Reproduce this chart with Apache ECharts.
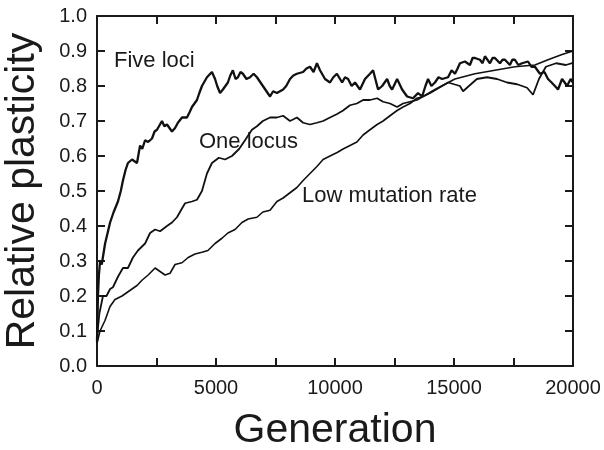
<!DOCTYPE html>
<html><head><meta charset="utf-8">
<script src="https://cdn.jsdelivr.net/npm/echarts@6/dist/echarts.min.js"></script>
<style>html,body{margin:0;padding:0;background:#fff}#c{width:604px;height:450px}</style>
</head><body><div id="c"></div>
<script>
const fiveGen = [0,40,80,130,200,340,550,700,880,1000,1090,1200,1300,1470,1680,1810,1900,2020,2150,2310,2420,2520,2730,2830,2940,3150,3280,3400,3570,3780,3890,3990,4200,4300,4410,4620,4830,4960,5050,5170,5290,5500,5600,5710,5820,5920,6030,6130,6280,6430,6580,6720,6970,7270,7400,7560,7820,7950,8110,8250,8400,8660,8800,8950,9100,9240,9370,9580,9790,9930,10080,10300,10420,10550,10700,10840,11050,11260,11470,11600,11680,11810,11980,12190,12300,12400,12610,12820,13030,13280,13490,13660,13800,13910,14050,14200,14350,14500,14750,14900,15040,15150,15250,15460,15670,15780,15880,16090,16200,16300,16510,16620,16720,16930,17040,17140,17350,17450,17560,17700,17860,18110,18250,18400,18610,18800,18950,19100,19240,19370,19540,19650,19750,19900,20000];
const fiveVal = [0.07,0.20,0.26,0.30,0.29,0.35,0.41,0.44,0.47,0.50,0.53,0.56,0.58,0.59,0.58,0.63,0.62,0.645,0.64,0.65,0.67,0.675,0.70,0.685,0.69,0.67,0.68,0.695,0.71,0.71,0.725,0.74,0.76,0.78,0.80,0.825,0.84,0.82,0.80,0.78,0.79,0.81,0.83,0.845,0.82,0.825,0.84,0.835,0.82,0.825,0.835,0.825,0.80,0.77,0.785,0.78,0.79,0.80,0.82,0.83,0.835,0.84,0.85,0.855,0.84,0.865,0.845,0.82,0.81,0.825,0.835,0.81,0.825,0.82,0.80,0.81,0.79,0.82,0.835,0.845,0.85,0.79,0.80,0.82,0.80,0.79,0.82,0.79,0.77,0.765,0.78,0.77,0.80,0.82,0.80,0.81,0.825,0.82,0.825,0.845,0.835,0.85,0.865,0.87,0.86,0.88,0.88,0.875,0.865,0.885,0.865,0.88,0.88,0.865,0.875,0.875,0.86,0.875,0.875,0.86,0.865,0.87,0.855,0.855,0.835,0.84,0.82,0.81,0.80,0.79,0.82,0.81,0.80,0.82,0.81];

const oneGen = [0,100,250,400,550,670,880,1090,1300,1510,1720,2020,2230,2440,2650,2940,3150,3360,3570,3700,3990,4200,4410,4620,4830,5120,5380,5670,5970,6220,6510,6720,6970,7270,7560,7820,8110,8400,8660,8950,9240,9500,9790,10090,10340,10630,10920,11180,11470,11770,12020,12310,12610,12860,13150,13440,13700,14000,14500,14750,15250,15380,15960,16390,16810,17230,17650,18070,18320,18570,18860,19290,19700,20000];
const oneVal = [0.08,0.15,0.20,0.20,0.22,0.225,0.255,0.28,0.28,0.31,0.33,0.35,0.38,0.39,0.385,0.40,0.41,0.425,0.45,0.465,0.47,0.475,0.50,0.55,0.58,0.595,0.59,0.60,0.62,0.645,0.675,0.685,0.70,0.71,0.71,0.715,0.70,0.71,0.695,0.69,0.695,0.70,0.71,0.72,0.73,0.745,0.75,0.76,0.76,0.765,0.755,0.75,0.74,0.75,0.755,0.76,0.77,0.78,0.80,0.81,0.80,0.785,0.82,0.825,0.82,0.81,0.805,0.795,0.775,0.82,0.855,0.865,0.86,0.866];

const lowGen = [0,126,336,546,756,1050,1260,1470,1680,1890,2150,2440,2650,2860,3070,3280,3570,3830,4120,4410,4660,4960,5250,5500,5800,6090,6350,6720,6970,7270,7560,7820,8110,8400,8660,8950,9240,9500,9790,10090,10340,10630,10920,11180,11470,11770,12020,12310,12610,12860,13150,13440,13700,14200,15040,15880,16720,17560,18400,18950,19540,20000];
const lowVal = [0.065,0.10,0.13,0.17,0.19,0.20,0.21,0.22,0.23,0.245,0.26,0.28,0.27,0.26,0.265,0.29,0.295,0.31,0.32,0.325,0.33,0.35,0.365,0.38,0.39,0.41,0.42,0.425,0.44,0.445,0.47,0.48,0.495,0.51,0.53,0.55,0.57,0.59,0.60,0.61,0.62,0.63,0.64,0.66,0.675,0.69,0.70,0.715,0.73,0.74,0.75,0.765,0.77,0.79,0.82,0.835,0.845,0.855,0.86,0.875,0.89,0.90];

const seriesNames = ['Five loci','One locus','Low mutation rate'];
const xTicksLabeled = [0,5000,10000,15000,20000];

const pairs = (g,v) => g.map((x,i)=>[x,v[i]]);
const chart = echarts.init(document.getElementById('c'));
const font = 'Liberation Sans, Arial, sans-serif';
const axCol = '#1a1a1a';
const baseX = {type:'value',min:0,max:20000,interval:2500,
  axisLine:{onZero:false,lineStyle:{color:axCol,width:2}},
  axisTick:{inside:true,length:8,lineStyle:{color:axCol,width:2}},
  splitLine:{show:false}};
const baseY = {type:'value',min:0,max:1,interval:0.1,
  axisLine:{onZero:false,lineStyle:{color:axCol,width:2}},
  axisTick:{inside:true,length:8,lineStyle:{color:axCol,width:2}},
  splitLine:{show:false}};
chart.setOption({
  animation:false,
  backgroundColor:'#fff',
  grid:{left:97,right:31,top:16,bottom:84,containLabel:false,outerBoundsMode:'none'},
  xAxis:[Object.assign({},baseX,{position:'bottom',
    name:'Generation',nameLocation:'middle',nameGap:44,
    nameTextStyle:{fontFamily:font,fontSize:41,color:'#1a1a1a'},
    axisLabel:{fontFamily:font,fontSize:20,color:'#1a1a1a',margin:12,
      formatter:v=>xTicksLabeled.indexOf(v)>=0?String(v):''}}),
    Object.assign({},baseX,{position:'top',axisLabel:{show:false}})],
  yAxis:[Object.assign({},baseY,{position:'left',
    name:'Relative plasticity',nameLocation:'middle',nameGap:54,
    nameTextStyle:{fontFamily:font,fontSize:41,color:'#1a1a1a'},
    axisLabel:{fontFamily:font,fontSize:20,color:'#1a1a1a',margin:10,
      formatter:v=>v.toFixed(1)}}),
    Object.assign({},baseY,{position:'right',axisLabel:{show:false}})],
  series:[
    {name:seriesNames[0],type:'line',showSymbol:false,data:pairs(fiveGen,fiveVal),lineStyle:{color:'#111',width:2.3}},
    {name:seriesNames[1],type:'line',showSymbol:false,data:pairs(oneGen,oneVal),lineStyle:{color:'#111',width:1.8}},
    {name:seriesNames[2],type:'line',showSymbol:false,data:pairs(lowGen,lowVal),lineStyle:{color:'#111',width:1.6}}
  ],
  graphic:[
    {type:'text',left:114,top:50,style:{text:seriesNames[0],font:'22px '+font,fill:'#1a1a1a'}},
    {type:'text',left:199,top:131,style:{text:seriesNames[1],font:'22px '+font,fill:'#1a1a1a'}},
    {type:'text',left:302,top:185,style:{text:seriesNames[2],font:'22px '+font,fill:'#1a1a1a'}}
  ]
});
</script></body></html>
